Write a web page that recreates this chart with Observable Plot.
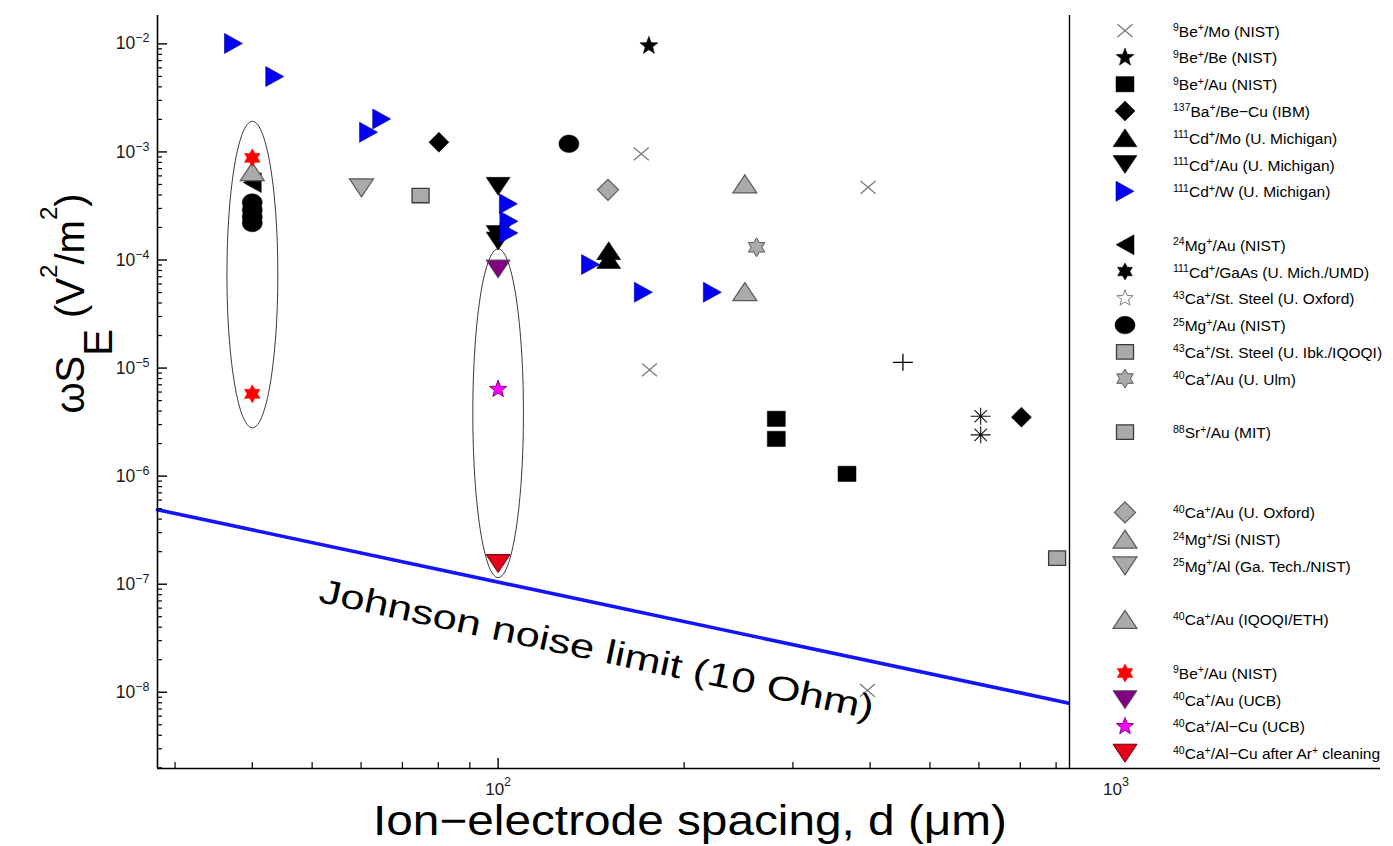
<!DOCTYPE html>
<html><head><meta charset="utf-8">
<script src="https://cdn.jsdelivr.net/npm/d3@7"></script>
<script src="https://cdn.jsdelivr.net/npm/@observablehq/plot@0.6"></script>
<style>
html,body{margin:0;padding:0;background:#fff;}
#chart{position:relative;width:1393px;height:846px;}
</style></head><body><div id="chart"></div>
<script>
// ---------------- data ----------------
// x: ion-electrode spacing d (µm); y: ωS_E (V²/m²)
const beMoD = [170.5, 175.8, 397, 396];
const beMoS = [9.6e-4, 9.6e-6, 4.7e-4, 1.04e-8];
const beBeD = [175.4];
const beBeS = [9.6e-3];
const beAuD = [282, 282, 367];
const beAuS = [3.39e-6, 2.21e-6, 1.05e-6];
const baBeCuD = [80.2, 703];
const baBeCuS = [1.23e-3, 3.51e-6];
const cdMoD = [151, 151];
const cdMoS = [1.22e-4, 1.01e-4];
const cdAuD = [100, 100, 100];
const cdAuS = [4.8e-4, 1.72e-4, 1.5e-4];
const cdWD = [37.3, 43.5, 61.7, 64.8, 103.9, 104.1, 104.1, 141.1, 171.8, 222.2];
const cdWS = [1.01e-2, 4.98e-3, 1.52e-3, 2.02e-3, 3.31e-4, 2.28e-4, 1.78e-4, 9.08e-5, 5.03e-5, 5.03e-5];
const mg24AuD = [40];
const mg24AuS = [5.2e-4];
const cdGaAsD = [];
const cdGaAsS = [];
const caSteelOxD = [];
const caSteelOxS = [];
const mg25AuD = [130.2, 40, 40, 40, 40];
const mg25AuS = [1.19e-3, 3.4e-4, 2.9e-4, 2.5e-4, 2.2e-4];
const caSteelIbkD = [74.9];
const caSteelIbkS = [3.95e-4];
const caAuUlmD = [262];
const caAuUlmS = [1.31e-4];
const srAuD = [803];
const srAuS = [1.74e-7];
const caAuOxD = [150.6];
const caAuOxS = [4.46e-4];
const mgSiD = [250.8, 250.8];
const mgSiS = [5.06e-4, 5.1e-5];
const mgAlD = [60.1];
const mgAlS = [4.65e-4];
const caAuEthD = [40];
const caAuEthS = [6.58e-4];
const beAuRedD = [40, 40];
const beAuRedS = [8.81e-4, 5.77e-6];
const caAuUcbD = [100];
const caAuUcbS = [8.25e-5];
const caAlCuD = [100];
const caAlCuS = [6.37e-6];
const caAlCuArD = [100];
const caAlCuArS = [1.55e-7];
const plusD = [452];
const plusS = [1.13e-5];
const asteriskD = [604, 604];
const asteriskS = [3.58e-6, 2.41e-6];

// Johnson noise limit line (two read end points)
const johnsonD = [28.1, 900];
const johnsonS = [4.88e-7, 7.28e-9];
const johnsonLabel = "Johnson noise limit (10 Ohm)";
const johnsonLabelD = 51.1;
const johnsonLabelS = 6.8e-8;

// ellipses drawn around two groups of points
const ellipseCenterD = [40, 100];
const ellipseLeftD = [36.4, 91.0];
const ellipseRightD = [44.0, 109.9];
const ellipseTopS = [1.92e-3, 1.27e-4];
const ellipseBottomS = [2.8e-6, 1.15e-7];

// axes
const xDomain = [28.1, 2680];
const yDomain = [1.97e-9, 0.0183];
const xMajor = [100, 1000];
const yMajor = [1e-8, 1e-7, 1e-6, 1e-5, 1e-4, 1e-3, 1e-2];
const xTitle = "Ion\u2212electrode spacing, d (\u03bcm)";

// legend (null = blank row)
const legendLabels = [
  "^{9}Be^{+}/Mo (NIST)",
  "^{9}Be^{+}/Be (NIST)",
  "^{9}Be^{+}/Au (NIST)",
  "^{137}Ba^{+}/Be\u2212Cu (IBM)",
  "^{111}Cd^{+}/Mo (U. Michigan)",
  "^{111}Cd^{+}/Au (U. Michigan)",
  "^{111}Cd^{+}/W (U. Michigan)",
  null,
  "^{24}Mg^{+}/Au (NIST)",
  "^{111}Cd^{+}/GaAs (U. Mich./UMD)",
  "^{43}Ca^{+}/St. Steel (U. Oxford)",
  "^{25}Mg^{+}/Au (NIST)",
  "^{43}Ca^{+}/St. Steel (U. Ibk./IQOQI)",
  "^{40}Ca^{+}/Au (U. Ulm)",
  null,
  "^{88}Sr^{+}/Au (MIT)",
  null, null,
  "^{40}Ca^{+}/Au (U. Oxford)",
  "^{24}Mg^{+}/Si (NIST)",
  "^{25}Mg^{+}/Al (Ga. Tech./NIST)",
  null,
  "^{40}Ca^{+}/Au (IQOQI/ETH)",
  null,
  "^{9}Be^{+}/Au (NIST)",
  "^{40}Ca^{+}/Au (UCB)",
  "^{40}Ca^{+}/Al\u2212Cu (UCB)",
  "^{40}Ca^{+}/Al\u2212Cu after Ar^{+} cleaning"
];
const legendKeys = ["beMo","beBe","beAu","baBeCu","cdMo","cdAu","cdW",null,
  "mg24Au","cdGaAs","caSteelOx","mg25Au","caSteelIbk","caAuUlm",null,"srAu",null,null,
  "caAuOx","mgSi","mgAl",null,"caAuEth",null,"beAuRed","caAuUcb","caAlCu","caAlCuAr"];

// ---------------- symbols & styles ----------------
function poly(pts){ return {draw(c, size){ const r = Math.sqrt(size/Math.PI);
  pts.forEach(([x,y],i)=> i ? c.lineTo(x*r,y*r) : c.moveTo(x*r,y*r)); c.closePath(); }}; }
function starPts(n, inner){ const p=[]; for(let i=0;i<2*n;i++){ const a=-Math.PI/2+i*Math.PI/n, k=i%2?inner:1; p.push([k*Math.cos(a),k*Math.sin(a)]);} return p; }
const triUp = poly([[0,-0.75],[1,0.75],[-1,0.75]]);
const triDown = poly([[0,0.75],[1,-0.75],[-1,-0.75]]);
const triRight = poly([[0.9,0],[-0.9,-1],[-0.9,1]]);
const triLeft = poly([[-0.9,0],[0.9,-1],[0.9,1]]);
const diamond = poly([[0,-1],[1,0],[0,1],[-1,0]]);
const square = poly([[-1,-0.85],[1,-0.85],[1,0.85],[-1,0.85]]);
const star5 = poly(starPts(5, 0.42));
const star6 = poly(starPts(6, 0.577));
const oval = {draw(c,size){ const r=Math.sqrt(size/Math.PI), rx=r, ry=0.88*r, k=0.5523;
  c.moveTo(rx,0); c.bezierCurveTo(rx,ry*k,rx*k,ry,0,ry); c.bezierCurveTo(-rx*k,ry,-rx,ry*k,-rx,0);
  c.bezierCurveTo(-rx,-ry*k,-rx*k,-ry,0,-ry); c.bezierCurveTo(rx*k,-ry,rx,-ry*k,rx,0); c.closePath(); }};
const times = {draw(c,size){ const r=Math.sqrt(size/Math.PI), ry=0.85*r;
  c.moveTo(-r,-ry); c.lineTo(r,ry); c.moveTo(-r,ry); c.lineTo(r,-ry); }};
const plus = {draw(c,size){ const r=Math.sqrt(size/Math.PI);
  c.moveTo(-r,0); c.lineTo(r,0); c.moveTo(0,-0.85*r); c.lineTo(0,0.85*r); }};
const asterisk = {draw(c,size){ const r=Math.sqrt(size/Math.PI), q=0.62*r;
  c.moveTo(-r,0); c.lineTo(r,0); c.moveTo(0,-0.85*r); c.lineTo(0,0.85*r);
  c.moveTo(-q,-q); c.lineTo(q,q); c.moveTo(-q,q); c.lineTo(q,-q); }};

const GF = "#aaaaaa", GE = "#5a5a5a";
const styles = {
  beMo:      {symbol: times,    fill: "none",    stroke: "#7a7a7a", r: 7.5, sw: 1.3},
  beBe:      {symbol: star5,    fill: "black",   stroke: "black",   r: 9.5, sw: 0.5},
  beAu:      {symbol: square,   fill: "black",   stroke: "black",   r: 9,   sw: 0.5},
  baBeCu:    {symbol: diamond,  fill: "black",   stroke: "black",   r: 10,  sw: 0.5},
  cdMo:      {symbol: triUp,    fill: "black",   stroke: "black",   r: 12,  sw: 0.5},
  cdAu:      {symbol: triDown,  fill: "black",   stroke: "black",   r: 12,  sw: 0.5},
  cdW:       {symbol: triRight, fill: "#0000f5", stroke: "#000090", r: 10,  sw: 0.6},
  mg24Au:    {symbol: triLeft,  fill: "black",   stroke: "black",   r: 10,  sw: 0.5},
  cdGaAs:    {symbol: star6,    fill: "black",   stroke: "black",   r: 8.5, sw: 0.5},
  caSteelOx: {symbol: star5,    fill: "white",   stroke: "#808080", r: 8.5, sw: 1},
  mg25Au:    {symbol: oval,     fill: "black",   stroke: "black",   r: 10,  sw: 0.5},
  caSteelIbk:{symbol: square,   fill: GF,        stroke: "#3a3a3a", r: 8.5, sw: 1.3},
  caAuUlm:   {symbol: star6,    fill: GF,        stroke: GE,        r: 9.5, sw: 1},
  srAu:      {symbol: square,   fill: GF,        stroke: "#3a3a3a", r: 8.5, sw: 1.3},
  caAuOx:    {symbol: diamond,  fill: GF,        stroke: GE,        r: 10.5,sw: 1.2},
  mgSi:      {symbol: triUp,    fill: GF,        stroke: GE,        r: 12,  sw: 1.2},
  mgAl:      {symbol: triDown,  fill: GF,        stroke: GE,        r: 12,  sw: 1.2},
  caAuEth:   {symbol: triUp,    fill: GF,        stroke: GE,        r: 12,  sw: 1.2},
  beAuRed:   {symbol: star6,    fill: "#ff0000", stroke: "#ff0000", r: 9,   sw: 0.5},
  caAuUcb:   {symbol: triDown,  fill: "#800080", stroke: "#5a5a5a", r: 12,  sw: 1},
  caAlCu:    {symbol: star5,    fill: "#ff00ff", stroke: "#800080", r: 9,   sw: 1},
  caAlCuAr:  {symbol: triDown,  fill: "#e5001c", stroke: "#700000", r: 12,  sw: 1},
  plus:      {symbol: plus,     fill: "none",    stroke: "black",   r: 10,  sw: 1.3},
  asterisk:  {symbol: asterisk, fill: "none",    stroke: "#111",    r: 10,  sw: 1.1}
};

// ---------------- build tables ----------------
const seriesList = [
  ["beMo", beMoD, beMoS], ["beBe", beBeD, beBeS], ["beAu", beAuD, beAuS],
  ["baBeCu", baBeCuD, baBeCuS], ["cdMo", cdMoD, cdMoS], ["cdAu", cdAuD, cdAuS],
  ["cdW", cdWD, cdWS], ["mg24Au", mg24AuD, mg24AuS], ["cdGaAs", cdGaAsD, cdGaAsS],
  ["caSteelOx", caSteelOxD, caSteelOxS], ["mg25Au", mg25AuD, mg25AuS],
  ["caSteelIbk", caSteelIbkD, caSteelIbkS], ["caAuUlm", caAuUlmD, caAuUlmS],
  ["srAu", srAuD, srAuS], ["caAuOx", caAuOxD, caAuOxS], ["mgSi", mgSiD, mgSiS],
  ["mgAl", mgAlD, mgAlS], ["caAuEth", caAuEthD, caAuEthS], ["beAuRed", beAuRedD, beAuRedS],
  ["caAuUcb", caAuUcbD, caAuUcbS], ["caAlCu", caAlCuD, caAlCuS], ["caAlCuAr", caAlCuArD, caAlCuArS],
  ["plus", plusD, plusS], ["asterisk", asteriskD, asteriskS]
].map(([key, D, S]) => ({key, rows: D.map((d, i) => ({d, S: S[i]}))}));

const johnson = johnsonD.map((d, i) => ({d, S: johnsonS[i]}));

const ellipsePts = [];
ellipseCenterD.forEach((_, k) => {
  const lx0 = Math.log10(ellipseLeftD[k]), lx1 = Math.log10(ellipseRightD[k]);
  const ly0 = Math.log10(ellipseBottomS[k]), ly1 = Math.log10(ellipseTopS[k]);
  const cx = (lx0 + lx1) / 2, rx = (lx1 - lx0) / 2, cy = (ly0 + ly1) / 2, ry = (ly1 - ly0) / 2;
  for (let i = 0; i < 120; i++) {
    const t = 2 * Math.PI * i / 120;
    ellipsePts.push({id: k, d: Math.pow(10, cx + rx * Math.cos(t)), S: Math.pow(10, cy + ry * Math.sin(t))});
  }
});

const inside = (v, dom) => v >= dom[0] && v <= dom[1];
const yMinor = [];
for (let e = -9; e <= -2; e++) for (let m = 2; m <= 9; m++) { const v = m * Math.pow(10, e); if (inside(v, yDomain)) yMinor.push(v); }
// x tick marks only where the axis is not covered by the legend panel
const xMinor = [];
for (let e = 1; e <= 2; e++) for (let m = 2; m <= 8; m++) { const v = m * Math.pow(10, e); if (inside(v, xDomain)) xMinor.push(v); }
xMinor.push(90);
const xMajorMarks = [100];

const FONT = "'Liberation Sans', Arial, Helvetica, sans-serif";
const expFormat = v => "10^" + Math.round(Math.log10(v));

const W = 1393, H = 846;
const plot = Plot.plot({
  width: W, height: H,
  marginLeft: 157, marginRight: 13, marginTop: 15, marginBottom: 78,
  style: {fontFamily: FONT, fontSize: "17px", background: "white", color: "black", overflow: "visible"},
  x: {type: "log", domain: xDomain, axis: null},
  y: {type: "log", domain: yDomain, axis: null},
  marks: [
    Plot.line(ellipsePts, {x: "d", y: "S", z: "id", curve: "linear-closed", stroke: "#222", strokeWidth: 0.9}),
    Plot.line(johnson, {x: "d", y: "S", stroke: "#1414ff", strokeWidth: 3.6}),
    ...seriesList.map(s => { const st = styles[s.key];
      return Plot.dot(s.rows, {x: "d", y: "S", symbol: st.symbol, r: st.r, fill: st.fill, stroke: st.stroke, strokeWidth: st.sw}); }),
    Plot.ruleX([xDomain[0]], {stroke: "black", strokeWidth: 1.6}),
    Plot.ruleY([yDomain[0]], {stroke: "black", strokeWidth: 1.6}),
    Plot.axisY(yMinor, {tickSize: -5, tickFormat: () => "", label: null, strokeWidth: 1.2}),
    Plot.axisY(yMajor, {tickSize: -10, tickFormat: () => "", label: null, strokeWidth: 1.4}),
    Plot.axisY(yMajor, {tickSize: 0, tickPadding: 8, tickFormat: expFormat, label: null, fontSize: 17.5, fill: "#1a1a1a"}),
    Plot.axisX(xMinor, {tickSize: -6, tickFormat: () => "", label: null, strokeWidth: 1.2}),
    Plot.axisX(xMajorMarks, {tickSize: -10, tickFormat: () => "", label: null, strokeWidth: 1.4}),
    Plot.axisX(xMajor, {tickSize: 0, tickPadding: 14, tickFormat: expFormat, label: null, fontSize: 17, fill: "#1a1a1a"})
  ]
});

const svg = plot.tagName.toLowerCase() === "svg" ? plot : plot.querySelector("svg");
document.getElementById("chart").appendChild(plot);
const S = d3.select(svg);
const sx = v => plot.scale("x").apply(v), sy = v => plot.scale("y").apply(v);

// superscript exponents on tick labels
S.selectAll("text").each(function() {
  const m = /^10\^(-?\d+)$/.exec(this.textContent);
  if (!m) return;
  const isY = +m[1] < 0;
  const t = d3.select(this);
  t.text("10");
  t.append("tspan").attr("font-size", 12.5).attr("dy", isY ? -7 : -9).text(m[1].replace("-", "\u2212"));
});

// rich text helper: "^{..}" => superscript
function rich(sel, str, supSize, shift) {
  const parts = str.split(/(\^\{[^}]*\})/).filter(p => p.length);
  let up = false;
  parts.forEach(p => {
    const sup = p.startsWith("^{");
    const txt = sup ? p.slice(2, -1) : p;
    const t = sel.append("tspan").text(txt);
    if (sup) { t.attr("font-size", supSize); if (!up) t.attr("dy", -shift); up = true; }
    else { if (up) t.attr("dy", shift); up = false; }
  });
}

// Johnson noise label, parallel to the line
const p0 = [sx(johnsonD[0]), sy(johnsonS[0])], p1 = [sx(johnsonD[1]), sy(johnsonS[1])];
const ang = Math.atan2(p1[1] - p0[1], p1[0] - p0[0]) * 180 / Math.PI;
S.append("text")
  .attr("transform", `translate(${sx(johnsonLabelD)},${sy(johnsonLabelS)}) rotate(${ang})`)
  .attr("text-anchor", "start")
  .attr("font-family", FONT).attr("font-size", 34).attr("fill", "black")
  .attr("textLength", 566).attr("lengthAdjust", "spacingAndGlyphs")
  .text(johnsonLabel);

// legend panel (covers the right part of the axes, as in the reference)
const LX = 1070;
S.append("rect").attr("x", LX).attr("y", 0).attr("width", W - LX).attr("height", 767).attr("fill", "white");
S.append("line").attr("x1", LX - 0.5).attr("x2", LX - 0.5).attr("y1", 15).attr("y2", 768).attr("stroke", "black").attr("stroke-width", 1.4);
legendLabels.forEach((lab, i) => {
  if (!lab) return;
  const y = 30.7 + 26.76 * i;
  const st = styles[legendKeys[i]];
  S.append("path")
    .attr("d", d3.symbol(st.symbol, Math.PI * st.r * st.r)())
    .attr("transform", `translate(1125,${y})`)
    .attr("fill", st.fill).attr("stroke", st.stroke).attr("stroke-width", st.sw);
  const t = S.append("text").attr("x", 1173).attr("y", y + 6).attr("text-anchor", "start")
    .attr("font-family", FONT).attr("font-size", 15.5).attr("fill", "black");
  rich(t, lab, 10.5, 5.5);
});

// axis titles
const yt = S.append("text").attr("transform", "translate(84,303.5) rotate(-90)")
  .attr("text-anchor", "middle").attr("font-family", FONT).attr("font-size", 40).attr("fill", "black");
yt.append("tspan").text("\u03c9S");
yt.append("tspan").attr("dy", 28).text("E");
yt.append("tspan").attr("dy", -28).text(" (V");
yt.append("tspan").attr("dy", -27).attr("font-size", 24).text("2");
yt.append("tspan").attr("dy", 27).text("/m");
yt.append("tspan").attr("dy", -27).attr("font-size", 24).text("2");
yt.append("tspan").attr("dy", 27).text(")");

S.append("text").attr("x", 373).attr("y", 835).attr("text-anchor", "start")
  .attr("font-family", FONT).attr("font-size", 42).attr("fill", "black")
  .attr("textLength", 634).attr("lengthAdjust", "spacingAndGlyphs")
  .text(xTitle);
</script></body></html>
